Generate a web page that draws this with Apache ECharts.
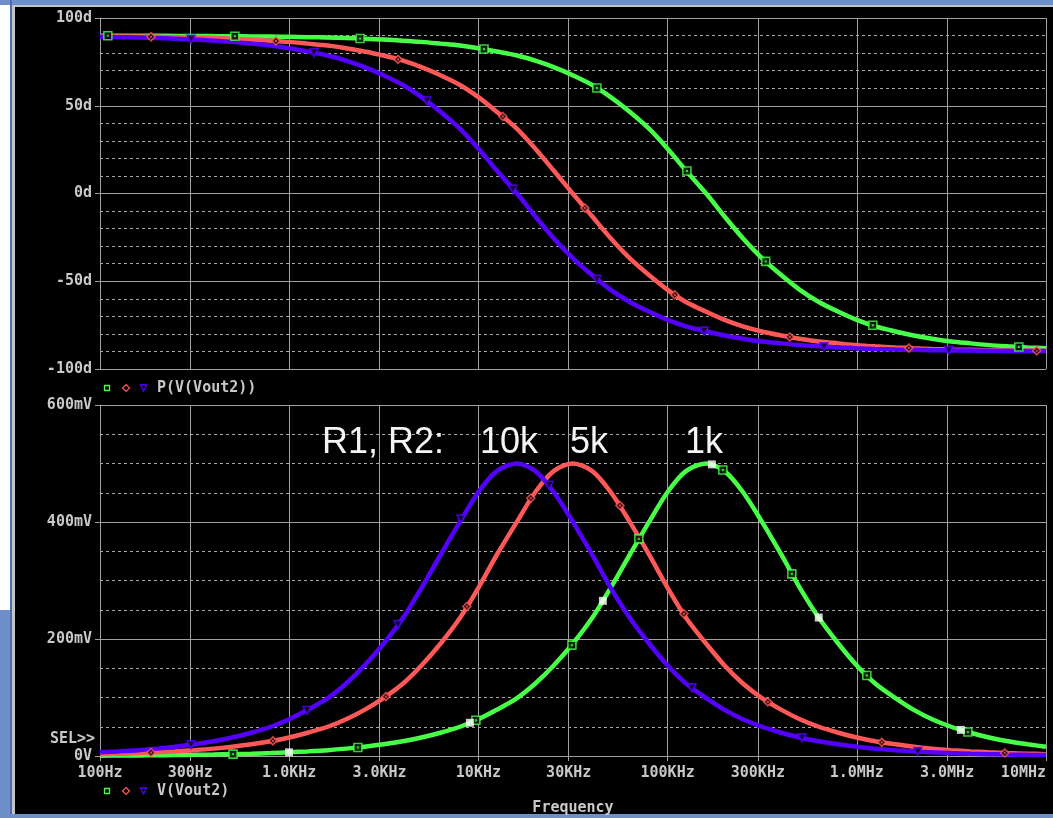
<!DOCTYPE html>
<html><head><meta charset="utf-8">
<script src="https://cdn.jsdelivr.net/npm/echarts@6/dist/echarts.min.js"></script>
<style>
html,body{margin:0;padding:0;width:1053px;height:818px;overflow:hidden;background:#ffffff;}
.b{position:absolute;}
#chart{position:absolute;left:0;top:0;width:1053px;height:818px;}
</style></head><body>
<div class="b" style="left:0;top:0;width:1053px;height:5px;background:#6f8fca"></div>
<div class="b" style="left:0;top:610px;width:10px;height:208px;background:#6f8fca"></div>
<div class="b" style="left:10px;top:0;width:2px;height:818px;background:#4d6db0"></div>
<div class="b" style="left:12px;top:5px;width:1041px;height:812px;background:#c4c4c4"></div>
<div class="b" style="left:15px;top:7px;width:1038px;height:807px;background:#000"></div>
<div class="b" style="left:0;top:814px;width:1053px;height:4px;background:#6f8fca"></div>
<div id="chart"></div>
<script>
// ---- data ----
const freq = [100,125,160,200,250,315,400,500,630,800,
 1000,1250,1600,2000,2500,3150,4000,5000,6300,8000,
 10000,12500,16000,20000,25000,31500,40000,50000,63000,80000,
 100000,125000,160000,200000,250000,315000,400000,500000,630000,800000,
 1000000,1250000,1600000,2000000,2500000,3150000,4000000,5000000,6300000,8000000,
 10000000];

const phase10k = [89.3,89.1,88.9,88.6,88.2,87.7,87.1,86.4,85.4,84.3,
 82.8,80.9,78.6,75.7,72.0,67.4,61.8,54.9,46.6,36.8,
 25.5,13.1,0,-13.1,-25.5,-36.8,-46.6,-54.9,-61.8,-67.4,
 -72.0,-75.7,-78.6,-80.9,-82.8,-84.3,-85.4,-86.4,-87.1,-87.7,
 -88.2,-88.6,-88.9,-89.1,-89.3,-89.4,-89.5,-89.6,-89.7,-89.8,
 -89.8];
const phase5k = [89.6,89.5,89.4,89.3,89.1,88.9,88.6,88.2,87.7,87.1,
 86.4,85.4,84.3,82.8,80.9,78.6,75.7,72.0,67.4,61.8,
 54.9,46.6,36.8,25.5,13.1,0,-13.1,-25.5,-36.8,-46.6,
 -54.9,-61.8,-67.4,-72.0,-75.7,-78.6,-80.9,-82.8,-84.3,-85.4,
 -86.4,-87.1,-87.7,-88.2,-88.6,-88.9,-89.1,-89.3,-89.4,-89.5,
 -89.6];
const phase1k = [89.9,89.9,89.9,89.9,89.8,89.8,89.7,89.6,89.5,89.4,
 89.3,89.1,88.9,88.6,88.2,87.7,87.1,86.4,85.4,84.3,
 82.8,80.9,78.6,75.7,72.0,67.4,61.8,54.9,46.6,36.8,
 25.5,13.1,0,-13.1,-25.5,-36.8,-46.6,-54.9,-61.8,-67.4,
 -72.0,-75.7,-78.6,-80.9,-82.8,-84.3,-85.4,-86.4,-87.1,-87.7,
 -88.2];

const mag10k = [6.3,7.9,10.0,12.6,15.8,20.0,25.1,31.6,39.8,50.0,
 62.9,78.9,99.0,123.9,154.6,191.9,236.3,287.5,343.6,400.6,
 451.3,487.0,500,487.0,451.3,400.6,343.6,287.5,236.3,191.9,
 154.6,123.9,99.0,78.9,62.9,50.0,39.8,31.6,25.1,20.0,
 15.8,12.6,10.0,7.9,6.3,5.0,4.0,3.2,2.5,2.0,
 1.6];
const mag5k = [3.2,4.0,5.0,6.3,7.9,10.0,12.6,15.8,20.0,25.1,
 31.6,39.8,50.0,62.9,78.9,99.0,123.9,154.6,191.9,236.3,
 287.5,343.6,400.6,451.3,487.0,500,487.0,451.3,400.6,343.6,
 287.5,236.3,191.9,154.6,123.9,99.0,78.9,62.9,50.0,39.8,
 31.6,25.1,20.0,15.8,12.6,10.0,7.9,6.3,5.0,4.0,
 3.2];
const mag1k = [0.6,0.8,1.0,1.3,1.6,2.0,2.5,3.2,4.0,5.0,
 6.3,7.9,10.0,12.6,15.8,20.0,25.1,31.6,39.8,50.0,
 62.9,78.9,99.0,123.9,154.6,191.9,236.3,287.5,343.6,400.6,
 451.3,487.0,500,487.0,451.3,400.6,343.6,287.5,236.3,191.9,
 154.6,123.9,99.0,78.9,62.9,50.0,39.8,31.6,25.1,20.0,
 15.8];

// trace symbols (marker positions along each trace)
const mkPh1kF = [110,516,2370,10700,42300,126500,330000,1216000,7180000];
const mkPh1kV = [89.9,89.6,88.3,82.3,60.1,12.8,-38.7,-75.1,-87.5];
const mkPh5kF = [186,851,3760,13460,36560,109100,442600,1884000,8935000];
const mkPh5kV = [89.3,86.9,76.4,43.9,-8.3,-57.7,-81.8,-88.1,-89.6];
const mkPh10kF = [303,1352,5346,15200,42270,155600,670000,3062000];
const mkPh10kV = [87.8,80.2,52.7,2.4,-48.9,-78.4,-87.3,-89.4];

const mkMag1kF = [505,2307,9700,31200,70470,195900,453600,1130000,3864000];
const mkMag1kV = [3.2,14.6,61.0,189.5,371.2,488.9,311.3,137.6,40.9];
const mkMag5kF = [186,820,3243,8690,18920,55960,121900,339000,1355000,6050000];
const mkMag5kV = [5.9,25.9,101.5,255.5,440.6,428.3,243.1,92.5,23.3,5.2];
const mkMag10kF = [303,1242,3758,8090,23600,134300,511700,2099000];
const mkMag10kV = [19.1,77.8,224.5,405.0,462.8,116.4,30.9,7.55];
const cursorF = [998,9020,45500,171400,629500,3548000];
const cursorV = [6.3,56.8,265.2,498.5,236.7,44.6];

// tick labels
const xTickValues = [100,300,1000,3000,10000,30000,100000,300000,1000000,3000000,10000000];
const xTickLabels = ['100Hz','300Hz','1.0KHz','3.0KHz','10KHz','30KHz','100KHz','300KHz','1.0MHz','3.0MHz','10MHz'];
const phaseTickValues = [-100,-50,0,50,100];
const phaseTickLabels = ['-100d','-50d','0d','50d','100d'];
const magTickValues = [0,200,400,600];
const magTickLabels = ['0V','200mV','400mV','600mV'];

const traceNames = ['R=1k','R=5k','R=10k'];
const annoText = ['R1, R2:','10k','5k','1k'];

// ---- style ----
const GREEN = '#48ff48', RED = '#ff5858', BLUE = '#5500ff';
const TXT = '#c8c8c8';
const MONO = '"DejaVu Sans Mono", monospace';
const axisFont = {color: TXT, fontFamily: MONO, fontWeight: 'bold', fontSize: 15};
const solid = {color: '#a0a0a0', width: 1, type: 'solid'};
const dash = {color: '#a8a8a8', width: 1, type: [3, 3]};

function pairs(xs, ys) { return xs.map((x, i) => [x, ys[i]]); }
function lookup(vals, labels) {
  return function (v) {
    for (let i = 0; i < vals.length; i++) {
      if (Math.abs(vals[i] - v) <= Math.abs(vals[i]) * 1e-6 + 1e-9) return labels[i];
    }
    return '';
  };
}

function xAxisFor(gi, showLabels) {
  return {
    gridIndex: gi, type: 'log', logBase: 10, min: 100, max: 10000000,
    axisLine: {show: true, lineStyle: solid},
    axisTick: {show: showLabels, length: 5, inside: false, customValues: xTickValues, lineStyle: solid},
    axisLabel: Object.assign({show: showLabels, customValues: xTickValues, margin: 10,
      formatter: lookup(xTickValues, xTickLabels), alignMaxLabel: 'right'}, axisFont),
    splitLine: {show: true, lineStyle: solid},
    minorSplitLine: {show: false},
    name: showLabels ? 'Frequency' : '',
    nameLocation: 'middle', nameGap: 45,
    nameTextStyle: Object.assign({}, axisFont)
  };
}

function lineSeries(name, xi, yi, ys, color, z) {
  return {
    name: name, type: 'line', xAxisIndex: xi, yAxisIndex: yi,
    data: pairs(freq, ys), showSymbol: false, symbol: 'none', smooth: 0.3,
    lineStyle: {color: color, width: 4.5}, itemStyle: {color: color},
    z: z, silent: true, clip: true
  };
}
const triPath = 'path://M0,0L10,0L5,10Z';
function markSeries(xi, yi, fs, vs, color, symbol, withDot) {
  const out = [{
    type: 'scatter', xAxisIndex: xi, yAxisIndex: yi, data: pairs(fs, vs),
    symbol: symbol, symbolSize: 8, itemStyle: {color: '#000', borderColor: color, borderWidth: 1.6},
    z: 10, silent: true
  }];
  if (withDot) out.push({
    type: 'scatter', xAxisIndex: xi, yAxisIndex: yi, data: pairs(fs, vs),
    symbol: 'rect', symbolSize: 2, itemStyle: {color: color}, z: 11, silent: true
  });
  return out;
}

const series = [].concat(
  [lineSeries(traceNames[0], 0, 0, phase1k, GREEN, 3),
   lineSeries(traceNames[1], 0, 0, phase5k, RED, 4),
   lineSeries(traceNames[2], 0, 0, phase10k, BLUE, 5),
   lineSeries(traceNames[0], 1, 1, mag1k, GREEN, 3),
   lineSeries(traceNames[1], 1, 1, mag5k, RED, 4),
   lineSeries(traceNames[2], 1, 1, mag10k, BLUE, 5)],
  markSeries(0, 0, mkPh1kF, mkPh1kV, GREEN, 'rect', true),
  markSeries(0, 0, mkPh5kF, mkPh5kV, RED, 'diamond', true),
  markSeries(0, 0, mkPh10kF, mkPh10kV, BLUE, triPath, false),
  markSeries(1, 1, mkMag1kF, mkMag1kV, GREEN, 'rect', true),
  markSeries(1, 1, mkMag5kF, mkMag5kV, RED, 'diamond', true),
  markSeries(1, 1, mkMag10kF, mkMag10kV, BLUE, triPath, false),
  [{type: 'scatter', xAxisIndex: 1, yAxisIndex: 1, data: pairs(cursorF, cursorV),
    symbol: 'rect', symbolSize: 8, itemStyle: {color: '#ffffff'}, z: 12, silent: true}]
);

function legendGraphics(y, label) {
  return [
    {type: 'rect', shape: {x: 104.5, y: y - 2.5, width: 5, height: 5}, style: {fill: 'none', stroke: GREEN, lineWidth: 1.3}, z: 20},
    {type: 'polygon', shape: {points: [[126, y - 3.5], [129.5, y], [126, y + 3.5], [122.5, y]]}, style: {fill: 'none', stroke: RED, lineWidth: 1.2}, z: 20},
    {type: 'polygon', shape: {points: [[140.5, y - 3], [146.5, y - 3], [143.5, y + 3]]}, style: {fill: 'none', stroke: BLUE, lineWidth: 1.3}, z: 20},
    {type: 'text', x: 157, y: y, style: {text: label, fill: TXT, font: 'bold 15px ' + MONO, verticalAlign: 'middle', textVerticalAlign: 'middle'}, z: 20}
  ];
}
function bigText(x, y, t) {
  return {type: 'text', x: x, y: y, style: {text: t, fill: '#f4f4f4', font: '36px "Liberation Sans", Arial, sans-serif', verticalAlign: 'middle', textVerticalAlign: 'middle'}, z: 30};
}

const option = {
  backgroundColor: 'transparent',
  animation: false,
  grid: [
    {left: 100, top: 18, width: 946, height: 351, containLabel: false},
    {left: 100, top: 405, width: 946, height: 351, containLabel: false}
  ],
  xAxis: [xAxisFor(0, false), xAxisFor(1, true)],
  yAxis: [
    {gridIndex: 0, type: 'value', min: -100, max: 100, interval: 50,
     axisLine: {show: true, lineStyle: solid},
     axisTick: {show: true, length: 5, inside: false, lineStyle: solid},
     axisLabel: Object.assign({margin: 8, formatter: lookup(phaseTickValues, phaseTickLabels)}, axisFont),
     splitLine: {show: true, lineStyle: solid},
     minorTick: {show: false, splitNumber: 5},
     minorSplitLine: {show: true, lineStyle: dash}},
    {gridIndex: 1, type: 'value', min: 0, max: 600, interval: 200,
     axisLine: {show: true, lineStyle: solid},
     axisTick: {show: true, length: 5, inside: false, lineStyle: solid},
     axisLabel: Object.assign({margin: 8, formatter: lookup(magTickValues, magTickLabels)}, axisFont),
     splitLine: {show: true, lineStyle: solid},
     minorTick: {show: false, splitNumber: 4},
     minorSplitLine: {show: true, lineStyle: dash}}
  ],
  series: series,
  graphic: [].concat(
    legendGraphics(388, 'P(V(Vout2))'),
    legendGraphics(791, 'V(Vout2)'),
    [{type: 'text', x: 50, y: 739, style: {text: 'SEL>>', fill: TXT, font: 'bold 15px ' + MONO, verticalAlign: 'middle', textVerticalAlign: 'middle'}, z: 20},
     bigText(322, 443, annoText[0]), bigText(480, 443, annoText[1]),
     bigText(570, 443, annoText[2]), bigText(685, 443, annoText[3])]
  )
};

const chart = echarts.init(document.getElementById('chart'), null, {renderer: 'canvas'});
chart.setOption(option);
</script>
</body></html>
